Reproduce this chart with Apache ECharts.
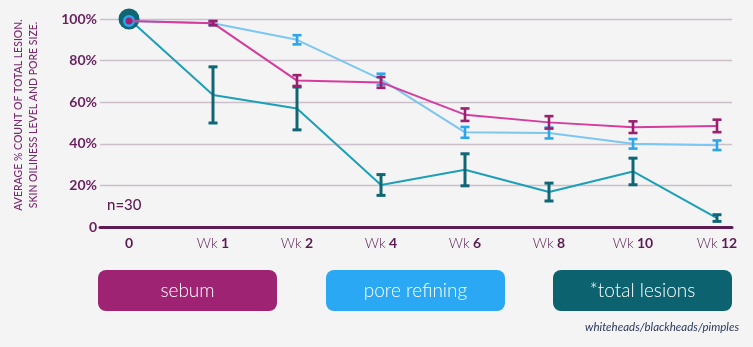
<!DOCTYPE html>
<html>
<head>
<meta charset="utf-8">
<script src="https://cdn.jsdelivr.net/npm/echarts@6/dist/echarts.min.js"></script>
<style>
  html, body { margin: 0; padding: 0; background: #f4f4f5; }
  #chart { width: 753px; height: 347px; }
</style>
</head>
<body>
<div id="chart"></div>
<script>
// Time points of the study
const categories = ['0', 'Wk 1', 'Wk 2', 'Wk 4', 'Wk 6', 'Wk 8', 'Wk 10', 'Wk 12'];

// Average % relative to baseline, with error (± half bar length)
const sebum      = [99, 98, 70.4, 69.5, 54, 50.3, 48, 48.6];
const sebumErr   = [0, 1, 2.6, 2.6, 3, 3, 2.8, 3];
const pore       = [99, 98, 90, 71, 45.5, 45.2, 40, 39.3];
const poreErr    = [0, 1, 2.2, 2.7, 2.6, 2.6, 2.3, 2.3];
const lesions    = [100, 63.5, 57, 20.2, 27.5, 16.8, 26.7, 4.3];
const lesionsErr = [0, 13.5, 10.3, 5, 7.7, 4.3, 6.4, 1.6];

const seriesNames = ['sebum', 'pore refining', '*total lesions'];
const yTicks = [0, 20, 40, 60, 80, 100];

const FONT = 'Lato, "Open Sans", sans-serif';
const PURPLE = '#5b1b51';

const chart = echarts.init(document.getElementById('chart'), null, { renderer: 'canvas' });

function errorData(means, errs) {
  return means.map((m, i) => [i, m - errs[i], m + errs[i]]).filter((d, i) => errs[i] > 0);
}

function errorBarSeries(name, means, errs, color, width, z) {
  return {
    type: 'custom',
    name: name + ' error',
    xAxisIndex: 0,
    yAxisIndex: 0,
    z: z,
    silent: true,
    data: errorData(means, errs),
    renderItem(params, api) {
      const lo = api.coord([api.value(0), api.value(1)]);
      const hi = api.coord([api.value(0), api.value(2)]);
      const hw = 4.5;
      const style = { stroke: color, lineWidth: width };
      return {
        type: 'group',
        children: [
          { type: 'line', shape: { x1: lo[0], y1: lo[1], x2: hi[0], y2: hi[1] }, style },
          { type: 'line', shape: { x1: lo[0] - hw, y1: lo[1], x2: lo[0] + hw, y2: lo[1] }, style },
          { type: 'line', shape: { x1: hi[0] - hw, y1: hi[1], x2: hi[0] + hw, y2: hi[1] }, style }
        ]
      };
    }
  };
}

function lineSeries(name, values, color, startColor, startSize, z) {
  return {
    type: 'line',
    name: name,
    xAxisIndex: 0,
    yAxisIndex: 0,
    z: z,
    symbol: 'none',
    silent: true,
    lineStyle: { color: color, width: 2 },
    itemStyle: { color: startColor },
    data: values.map((v, i) => i === 0
      ? { value: v, symbol: 'circle', symbolSize: startSize, itemStyle: { color: startColor } }
      : v)
  };
}

function boxGraphic(x, fill, label) {
  return {
    type: 'group',
    left: x,
    top: 270,
    children: [
      { type: 'rect', shape: { x: 0, y: 0, width: 179, height: 41, r: 8 }, style: { fill: fill } },
      {
        type: 'text', x: 89.5, y: 20.5,
        style: { text: label, fill: '#ffffff', font: '300 19px ' + FONT, align: 'center', verticalAlign: 'middle' }
      }
    ]
  };
}

const option = {
  backgroundColor: '#f4f4f5',
  animation: false,
  grid: [
    { left: 129, right: 36, top: 19, bottom: 120 },
    { left: 100, right: 21, top: 19, bottom: 120 }
  ],
  xAxis: [
    {
      type: 'category', gridIndex: 0, data: categories, boundaryGap: false,
      axisLine: { show: false }, axisTick: { show: false }, splitLine: { show: false },
      axisLabel: {
        interval: 0, margin: 9,
        formatter(v) {
          const parts = v.split(' ');
          return parts.length === 1 ? '{n|' + v + '}' : '{w|' + parts[0] + '} {n|' + parts[1] + '}';
        },
        rich: {
          w: { fontFamily: FONT, fontSize: 14, fontWeight: 300, color: PURPLE },
          n: { fontFamily: FONT, fontSize: 14, fontWeight: 'bold', color: PURPLE }
        }
      }
    },
    {
      type: 'value', gridIndex: 1, min: 0, max: 1,
      axisLine: { show: true, lineStyle: { color: '#5e1c55', width: 3 } },
      axisTick: { show: false }, axisLabel: { show: false }, splitLine: { show: false }
    }
  ],
  yAxis: [
    { type: 'value', gridIndex: 0, min: 0, max: 100, show: false },
    {
      type: 'value', gridIndex: 1, min: yTicks[0], max: yTicks[yTicks.length - 1], interval: 20,
      axisLine: { show: false }, axisTick: { show: false },
      axisLabel: {
        margin: 3,
        formatter: v => (v === 0 ? '0' : v + '%'),
        fontFamily: FONT, fontSize: 14, fontWeight: 'bold', color: '#6a1f5e'
      },
      splitLine: { lineStyle: { color: '#cbbfca', width: 1.3 } }
    }
  ],
  series: [
    lineSeries(seriesNames[2], lesions, '#1c9fb8', '#0f6674', 21, 2),
    errorBarSeries(seriesNames[2], lesions, lesionsErr, '#0f6674', 3, 3),
    lineSeries(seriesNames[1], pore, '#7cc6f2', '#2aa6ee', 12, 4),
    errorBarSeries(seriesNames[1], pore, poreErr, '#2aa6ee', 2.6, 5),
    lineSeries(seriesNames[0], sebum, '#d63b9e', '#a0206f', 7, 6),
    errorBarSeries(seriesNames[0], sebum, sebumErr, '#9c1f6e', 2.6, 7)
  ],
  graphic: [
    {
      type: 'text', x: 26, y: 115, rotation: Math.PI / 2,
      style: {
        text: 'AVERAGE % COUNT OF TOTAL LESION.\nSKIN OILINESS LEVEL AND PORE SIZE.',
        fill: '#7a2a6e', font: '500 10.5px ' + FONT, align: 'center', verticalAlign: 'middle',
        lineHeight: 15
      }
    },
    {
      type: 'text', left: 107, top: 198,
      style: { text: 'n=30', fill: PURPLE, font: '500 15px ' + FONT }
    },
    boxGraphic(98, '#9e2473', seriesNames[0]),
    boxGraphic(326, '#2ba8f4', seriesNames[1]),
    boxGraphic(553, '#0d6270', seriesNames[2]),
    {
      type: 'text', right: 14, top: 321,
      style: { text: 'whiteheads/blackheads/pimples', fill: '#2a3a5c', font: 'italic 11.5px ' + FONT }
    }
  ]
};

chart.setOption(option);
</script>
</body>
</html>
